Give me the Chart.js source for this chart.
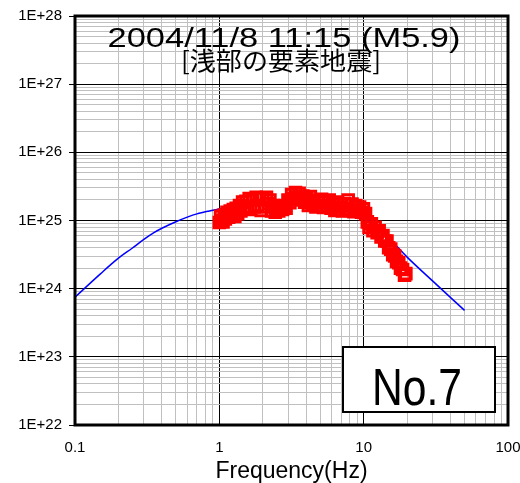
<!DOCTYPE html>
<html>
<head>
<meta charset="utf-8">
<script src="https://cdn.jsdelivr.net/npm/chart.js@4.4.1/dist/chart.umd.min.js"></script>
<style>
  body { margin: 0; background: #fff; }
</style>
</head>
<body>
<canvas id="spectrumChart" width="520" height="483"></canvas>
<script>
// Observed spectrum (red squares)
const obsFreq = [1.00, 1.02, 1.04, 1.06, 1.08, 1.10, 1.13, 1.16, 1.19, 1.22, 1.25, 1.28, 1.31, 1.34, 1.38,
  1.41, 1.45, 1.49, 1.53, 1.57, 1.61, 1.65, 1.70, 1.75, 1.80, 1.85, 1.90, 1.95, 2.00, 2.06, 2.12, 2.18,
  2.24, 2.30, 2.37, 2.44, 2.51, 2.58, 2.66, 2.74, 2.82, 2.90, 2.99, 3.08, 3.17, 3.27, 3.37, 3.47, 3.57,
  3.68, 3.79, 3.90, 4.02, 4.14, 4.27, 4.40, 4.53, 4.67, 4.81, 4.96, 5.11, 5.27, 5.43, 5.60, 5.77, 5.95,
  6.13, 6.32, 6.51, 6.71, 6.92, 7.13, 7.35, 7.58, 7.81, 8.05, 8.30, 8.56, 8.82, 9.09, 9.37, 9.66, 9.96,
  10.3, 10.6, 10.9, 11.3, 11.6, 12.0, 12.4, 12.8, 13.2, 13.6, 14.0, 14.5, 14.9, 15.4, 15.9, 16.4, 16.9,
  17.5, 18.0, 18.6, 19.2, 19.6];
const obsSpec = [9.33e24, 1.15e25, 1.00e25, 9.55e24, 1.20e25, 1.05e25, 1.32e25, 1.12e25, 1.38e25, 1.20e25, 1.45e25, 1.15e25, 1.51e25, 1.26e25, 1.66e25,
  1.38e25, 1.86e25, 1.51e25, 1.91e25, 1.58e25, 2.09e25, 1.45e25, 2.00e25, 1.58e25, 2.19e25, 1.66e25, 2.14e25, 1.41e25, 2.09e25, 1.58e25, 2.19e25, 1.78e25,
  2.00e25, 1.38e25, 1.66e25, 1.32e25, 1.51e25, 1.38e25, 1.62e25, 1.45e25, 1.66e25, 1.51e25, 2.00e25, 1.82e25, 2.40e25, 2.09e25, 2.57e25, 2.19e25, 2.51e25,
  2.00e25, 2.29e25, 1.86e25, 2.14e25, 1.66e25, 2.24e25, 1.74e25, 2.00e25, 1.58e25, 1.91e25, 1.66e25, 2.04e25, 1.55e25, 1.86e25, 1.62e25, 2.00e25, 1.51e25,
  1.78e25, 1.41e25, 1.86e25, 1.58e25, 1.74e25, 1.38e25, 1.78e25, 1.48e25, 2.00e25, 1.41e25, 1.74e25, 1.35e25, 1.66e25, 1.38e25, 1.58e25, 1.32e25, 1.48e25,
  1.26e25, 9.55e24, 7.94e24, 8.91e24, 7.08e24, 7.94e24, 6.61e24, 7.08e24, 5.75e24, 6.03e24, 5.01e24, 5.01e24, 3.98e24, 3.80e24, 3.16e24, 3.02e24, 2.51e24,
  2.40e24, 2.00e24, 1.91e24, 1.58e24, 1.66e24];

// Model spectrum (blue line)
const modelFreq = [0.1, 0.15, 0.2, 0.25, 0.3, 0.35, 0.4, 0.5, 0.6, 0.7, 0.85, 1, 1.5, 2, 3, 4, 5, 7, 10, 12, 15, 20, 30, 50];
const modelSpec = [7.5e23, 1.65e24, 2.8e24, 3.95e24, 5.3e24, 6.6e24, 7.7e24, 9.6e24, 1.12e25, 1.25e25, 1.38e25, 1.48e25, 1.62e25, 1.7e25, 1.74e25, 1.72e25, 1.66e25, 1.42e25, 1.1e25, 8.4e24, 5.5e24, 2.9e24, 1.3e24, 4.8e23];

// Axes
const xDecades = [0.1, 1, 10, 100];
const xTickLabels = ['0.1', '1', '10', '100'];
const yDecades = [1e22, 1e23, 1e24, 1e25, 1e26, 1e27, 1e28];
const yTickLabels = ['1E+22', '1E+23', '1E+24', '1E+25', '1E+26', '1E+27', '1E+28'];

const titleLine1 = '2004/11/8 11:15 (M5.9)';
const titleLine2 = '[浅部の要素地震]';
const boxLabel = 'No.7';
const xTitle = 'Frequency(Hz)';

Chart.defaults.font.family = '"Liberation Sans", Arial, sans-serif';
Chart.defaults.color = '#000';

// grid lines at 1..9 x each decade
function logTicks(decades) {
    const ticks = [];
    decades.forEach((d, i) => {
        if (i === decades.length - 1) {
            ticks.push({ value: d, major: true });
            return;
        }
        for (let k = 1; k < 10; k++) {
            ticks.push({ value: k * d, major: k === 1 });
        }
    });
    return ticks;
}

function decadeLabel(value, decades, labels) {
    const i = decades.findIndex(d => Math.abs(value / d - 1) < 1e-6);
    return i >= 0 ? labels[i] : '';
}

const gridColor = c => (c.tick && c.tick.major) ? '#000000' : '#c0c0c0';

// text stretched to a given width
function drawFitted(ctx, text, font, cx, baseline, width) {
    ctx.save();
    ctx.font = font;
    const w = ctx.measureText(text).width;
    ctx.translate(cx, baseline);
    ctx.scale(width / w, 1);
    ctx.textAlign = 'center';
    ctx.textBaseline = 'alphabetic';
    ctx.fillStyle = '#000';
    ctx.fillText(text, 0, 0);
    ctx.restore();
}

const overlayPlugin = {
    id: 'overlay',
    afterDatasetsDraw(chart) {
        const { ctx, chartArea: a } = chart;
        ctx.save();
        ctx.strokeStyle = '#000';
        ctx.lineWidth = 3;
        ctx.strokeRect(a.left, a.top, a.right - a.left, a.bottom - a.top);
        ctx.restore();
    },
    afterDraw(chart) {
        const { ctx } = chart;
        drawFitted(ctx, titleLine1, '28px "Liberation Sans", Arial, sans-serif', 284, 47, 353);
        drawFitted(ctx, titleLine2, '25px "Noto Sans CJK JP", sans-serif', 281, 70, 200);

        // No.7 box
        ctx.save();
        ctx.fillStyle = '#fff';
        ctx.fillRect(343, 347, 152, 65);
        ctx.strokeStyle = '#000';
        ctx.lineWidth = 2;
        ctx.strokeRect(343, 347, 152, 65);
        ctx.restore();
        drawFitted(ctx, boxLabel, '52px "Liberation Sans", Arial, sans-serif', 417, 405, 90);
    }
};

new Chart(document.getElementById('spectrumChart'), {
    type: 'scatter',
    data: {
        datasets: [{
            label: 'Observed',
            data: obsFreq.map((f, i) => ({ x: f, y: obsSpec[i] })),
            showLine: false,
            pointStyle: 'rect',
            pointRadius: 7.5,
            pointBorderWidth: 3,
            borderColor: '#ff0000',
            backgroundColor: 'rgba(0,0,0,0)',
            order: 0
        }, {
            label: 'Model',
            data: modelFreq.map((f, i) => ({ x: f, y: modelSpec[i] })),
            showLine: true,
            pointRadius: 0,
            borderColor: '#0000ff',
            borderWidth: 1.5,
            cubicInterpolationMode: 'monotone',
            order: 1
        }]
    },
    options: {
        responsive: false,
        animation: false,
        layout: { padding: { top: 15, right: 12, left: 0, bottom: 0 } },
        plugins: {
            legend: { display: false },
            tooltip: { enabled: false }
        },
        scales: {
            x: {
                type: 'logarithmic',
                min: 0.1,
                max: 100,
                afterBuildTicks: s => { s.ticks = logTicks(xDecades); },
                afterFit: s => {
                    s.height = 58;
                    s.paddingLeft = 0;
                    s.paddingRight = 0;
                },
                ticks: {
                    autoSkip: false,
                    maxRotation: 0,
                    padding: 14,
                    font: { size: 15 },
                    callback: v => decadeLabel(v, xDecades, xTickLabels)
                },
                grid: { color: gridColor, lineWidth: 1, drawTicks: false },
                border: { display: false },
                title: {
                    display: true,
                    text: xTitle,
                    font: { size: 23, lineHeight: 1 },
                    padding: { top: 0, bottom: 0 }
                }
            },
            y: {
                type: 'logarithmic',
                min: 1e22,
                max: 1e28,
                afterBuildTicks: s => { s.ticks = logTicks(yDecades); },
                afterFit: s => { s.width = 75; },
                ticks: {
                    autoSkip: false,
                    padding: 7,
                    font: { size: 15 },
                    callback: v => decadeLabel(v, yDecades, yTickLabels)
                },
                grid: {
                    color: gridColor,
                    lineWidth: 1,
                    tickLength: 6,
                    tickColor: c => (c.tick && c.tick.major) ? '#000000' : 'rgba(0,0,0,0)'
                },
                border: { display: false }
            }
        }
    },
    plugins: [overlayPlugin]
});
</script>
</body>
</html>
